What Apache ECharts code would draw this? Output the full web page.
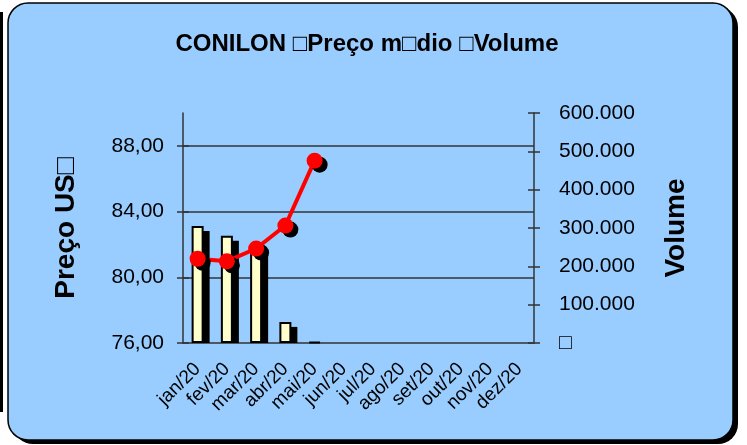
<!doctype html>
<html lang="pt">
<head>
    <meta charset="UTF-8">
    <script type="text/javascript" src="https://cdn.jsdelivr.net/npm/echarts@6/dist/echarts.min.js"></script>
    <title>CONILON</title>
    <style>
        html, body { margin: 0; padding: 0; background: #fff; }
    </style>
</head>
<body>
    <div id="main" style="width: 747px;height:445px;"></div>
</body>
<script type="text/javascript">
    // dados do grafico
    var meses = ['jan/20', 'fev/20', 'mar/20', 'abr/20', 'mai/20', 'jun/20', 'jul/20', 'ago/20', 'set/20', 'out/20', 'nov/20', 'dez/20'];
    var precoMedio = [81.13, 80.97, 81.75, 83.15, 87.1, null, null, null, null, null, null, null];
    var volume = [305000, 280000, 245000, 55000, 3000, null, null, null, null, null, null, null];
    var ticksPreco = [76, 80, 84, 88];

    var fonte = 'Liberation Sans, Arial, sans-serif';
    var corEixo = '#333';
    var larguraBarra = 12;

    var myChart = echarts.init(document.getElementById('main'));
    myChart.setOption({
        backgroundColor: '#fff',
        animation: false,
        graphic: [
            // linha preta na borda esquerda
            { type: 'rect', z: -20, shape: { x: 0, y: 12, width: 3, height: 400 }, style: { fill: '#000' } },
            // sombra do painel
            { type: 'rect', z: -20, shape: { x: 13, y: 7, width: 725, height: 437, r: 20 }, style: { fill: '#000' } },
            // painel azul
            { type: 'rect', z: -19, shape: { x: 8, y: 3, width: 725, height: 437, r: 20 },
              style: { fill: '#99CCFF', stroke: '#000', lineWidth: 1.5 } }
        ],
        title: {
            text: 'CONILON \u25A1Preço m\u25A1dio \u25A1Volume',
            left: 362,
            top: 27,
            textAlign: 'center',
            textStyle: { fontFamily: fonte, fontSize: 24, fontWeight: 'bold', color: '#000' }
        },
        grid: { left: 183, right: 213, top: 113, bottom: 102, containLabel: false },
        xAxis: [
            {
                type: 'category',
                data: meses,
                axisLine: { lineStyle: { color: corEixo, width: 1.5 } },
                axisTick: { length: 6, lineStyle: { color: corEixo, width: 1.5 } },
                axisLabel: { interval: 0, rotate: 45, margin: 23, fontFamily: fonte, fontSize: 19, color: '#000' }
            },
            {
                // marcas internas do eixo x
                type: 'category',
                data: meses,
                position: 'bottom',
                axisLine: { show: false },
                axisTick: { inside: true, length: 6, lineStyle: { color: corEixo, width: 1.5 } },
                axisLabel: { show: false }
            }
        ],
        yAxis: [
            {
                type: 'value',
                position: 'left',
                min: 76, max: 90, interval: 4,
                name: 'Preço US\u25A1',
                nameLocation: 'middle',
                nameGap: 103,
                nameTextStyle: { fontFamily: fonte, fontSize: 28, fontWeight: 'bold', color: '#000' },
                axisLine: { show: true, lineStyle: { color: corEixo, width: 1.5 } },
                axisTick: { show: true, length: 6, customValues: ticksPreco, lineStyle: { color: corEixo, width: 1.5 } },
                axisLabel: {
                    customValues: ticksPreco,
                    margin: 19,
                    fontFamily: fonte, fontSize: 21, color: '#000',
                    formatter: function (v) { return v.toFixed(2).replace('.', ','); }
                },
                splitLine: { show: true, showMinLine: false, lineStyle: { color: corEixo, width: 1.5 } }
            },
            {
                type: 'value',
                position: 'right',
                min: 0, max: 600000, interval: 100000,
                name: 'Volume',
                nameLocation: 'middle',
                nameGap: 128,
                nameTextStyle: { fontFamily: fonte, fontSize: 28, fontWeight: 'bold', color: '#000' },
                axisLine: { show: true, lineStyle: { color: corEixo, width: 1.5 } },
                axisTick: { show: true, length: 6, lineStyle: { color: corEixo, width: 1.5 } },
                axisLabel: {
                    margin: 25,
                    fontFamily: fonte, fontSize: 21, color: '#000',
                    formatter: function (v) { return v === 0 ? '\u25A1' : (v / 1000).toFixed(0) + '.000'; }
                },
                splitLine: { show: false }
            },
            {
                // marcas internas esquerda
                type: 'value', position: 'left', min: 76, max: 90, interval: 4,
                axisLine: { show: false },
                axisTick: { show: true, inside: true, length: 6, customValues: ticksPreco, lineStyle: { color: corEixo, width: 1.5 } },
                axisLabel: { show: false },
                splitLine: { show: false }
            },
            {
                // marcas internas direita
                type: 'value', position: 'right', min: 0, max: 600000, interval: 100000,
                axisLine: { show: false },
                axisTick: { show: true, inside: true, length: 6, lineStyle: { color: corEixo, width: 1.5 } },
                axisLabel: { show: false },
                splitLine: { show: false }
            }
        ],
        series: [
            {
                // sombra preta das barras
                name: 'sombra',
                type: 'custom',
                yAxisIndex: 1,
                z: 1,
                silent: true,
                data: volume.map(function (v, i) { return [i, v]; }),
                renderItem: function (params, api) {
                    var v = api.value(1);
                    if (v == null || isNaN(v)) return;
                    var topo = api.coord([api.value(0), v]);
                    var base = api.coord([api.value(0), 0]);
                    var h = base[1] - topo[1] - 5;
                    if (h <= 0) return;
                    return {
                        type: 'rect',
                        shape: { x: topo[0] - larguraBarra / 2 + 6, y: topo[1] + 5, width: larguraBarra, height: h },
                        style: { fill: '#000' }
                    };
                }
            },
            {
                name: 'Volume',
                type: 'bar',
                yAxisIndex: 1,
                data: volume,
                barWidth: larguraBarra,
                z: 2,
                itemStyle: {
                    color: '#FFFFCC',
                    borderColor: '#000',
                    borderWidth: 2
                }
            },
            {
                name: 'Preço médio',
                type: 'line',
                yAxisIndex: 0,
                data: precoMedio,
                symbol: 'circle',
                symbolSize: 16,
                lineStyle: { color: '#FF0000', width: 4 },
                itemStyle: {
                    color: '#FF0000',
                    shadowColor: '#000',
                    shadowBlur: 0,
                    shadowOffsetX: 5,
                    shadowOffsetY: 4
                },
                z: 5
            }
        ]
    });
</script>
</html>
